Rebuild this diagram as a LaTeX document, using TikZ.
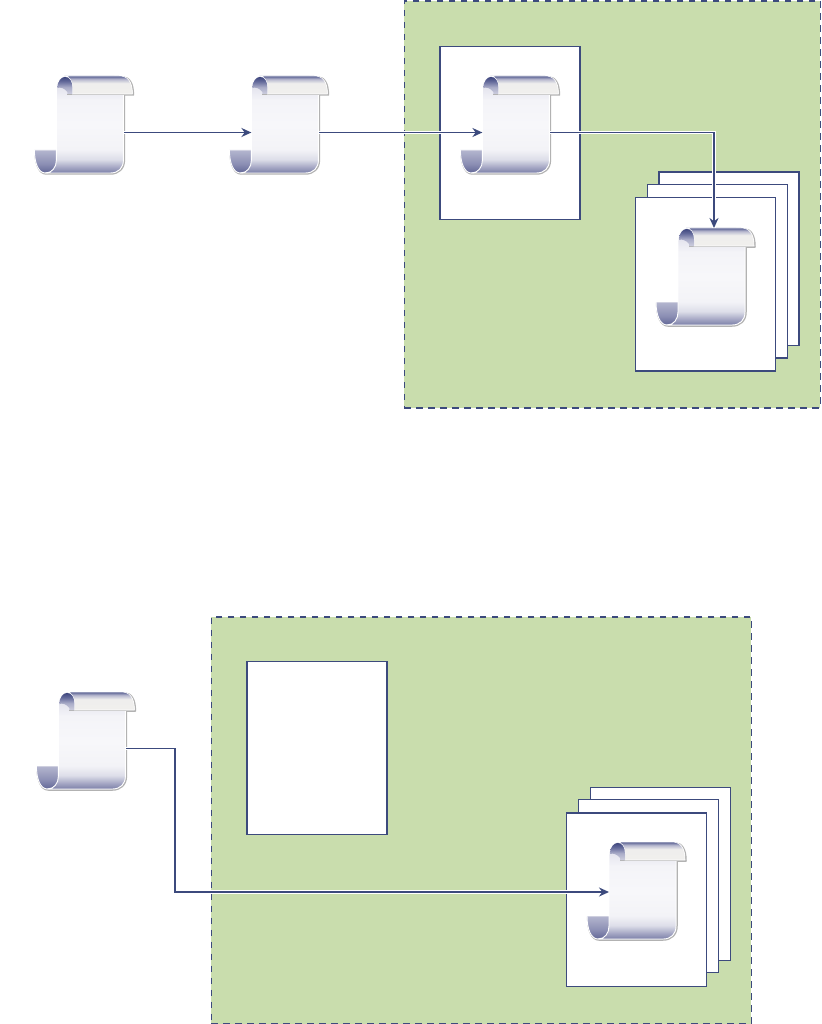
\documentclass[tikz,border=0pt]{standalone}
\usetikzlibrary{arrows.meta}
\definecolor{navy}{HTML}{3C4A7D}
\definecolor{zone}{HTML}{C9DDAD}
\definecolor{ba}{HTML}{7B7FA8}
\definecolor{bb}{HTML}{A5A7C4}
\definecolor{bc}{HTML}{DDDEE9}
\definecolor{bd}{HTML}{F3F3F7}
\definecolor{be}{HTML}{F7F7FA}
\definecolor{bf}{HTML}{F4F4F8}
\definecolor{bg}{HTML}{E4E4EE}
\definecolor{bh}{HTML}{A4A6C3}
\definecolor{fa}{HTML}{F0EFED}
\definecolor{fb}{HTML}{EFEEED}
\definecolor{fc}{HTML}{B8B9CF}
\definecolor{fd}{HTML}{565D90}
\definecolor{ca}{HTML}{CDCEDE}
\definecolor{cb}{HTML}{AAACC8}
\definecolor{cc}{HTML}{646A9B}
\definecolor{cd}{HTML}{3F477E}
\definecolor{ga}{HTML}{626796}
\definecolor{gb}{HTML}{8C8FB4}
\definecolor{gc}{HTML}{B4B6CF}
\pgfdeclareverticalshading{scrollbody}{100bp}{
 color(0bp)=(ba);color(25bp)=(ba);color(28bp)=(bb);color(32bp)=(bc);color(37bp)=(bd);
 color(49.7bp)=(be);color(62.6bp)=(bf);color(69.3bp)=(bg);color(75bp)=(bh);color(100bp)=(bh)}
\pgfdeclareverticalshading{scrollflap}{100bp}{
 color(0bp)=(fa);color(25bp)=(fa);color(55bp)=(fb);color(66bp)=(fc);color(75bp)=(fd);color(100bp)=(fd)}
\pgfdeclareverticalshading{scrollcurl}{100bp}{
 color(0bp)=(ca);color(25bp)=(ca);color(45bp)=(cb);color(62bp)=(cc);color(75bp)=(cd);color(100bp)=(cd)}
\pgfdeclareverticalshading{scrollfoot}{100bp}{
 color(0bp)=(ga);color(25bp)=(ga);color(45bp)=(gb);color(75bp)=(gc);color(100bp)=(gc)}
\tikzset{
 x=1pt,y=-1pt,
 zonebox/.style={draw=navy,fill=zone,line width=1.9pt,dash pattern=on 6.5pt off 5.5pt},
 pagebox/.style={draw=navy,fill=white,line width=1.2pt,anchor=north west,inner sep=0pt,outer sep=0pt,minimum width=140pt,minimum height=173.5pt},
 flowline/.style={draw=navy,line width=1.9pt,-{Stealth[length=10pt,width=9pt]},
   preaction={draw=white,line width=3.8pt,-}},
 scrollout/.style={draw=white,line width=.9pt,line join=round},
 scrollshadow/.style={draw=black!30,line width=1.5pt,line join=round},
 scrollpic/.pic={
  \draw[scrollshadow] (0.6,76) -- (23,76) -- (23,14) .. controls (23,6) and (28,2) .. (36,2) -- (88,2)
     .. controls (95,2) and (99,8) .. (99,20) -- (90,20) -- (90,85)
     .. controls (90,94) and (84,99) .. (76,99) -- (12,99) .. controls (5,99) and (0.6,90) .. (0.6,76) -- cycle;
  \shade[shading=scrollfoot,scrollout] (0,75) -- (24,75) -- (24,85) .. controls (24,93) and (19,98) .. (11,98)
     .. controls (4,98) and (0,88) .. (0,75) -- cycle;
  \shade[shading=scrollbody,scrollout] (22,14) .. controls (22,5) and (27,1) .. (35,1) -- (80,1)
     .. controls (86,1) and (89,5) .. (89,14) -- (89,85)
     .. controls (89,93) and (84,98) .. (76,98) -- (11,98)
     .. controls (18,98) and (22,92) .. (22,85) -- cycle;
  \fill[fill=black!30] (33,19) rectangle (98.5,20.4);
  \shade[shading=scrollflap,draw=white,line width=.6pt] (30,1) -- (85,1)
     .. controls (93,1) and (98,6) .. (98,19) -- (38,19) -- (38,12) .. controls (38,6) and (35,1) .. (30,1) -- cycle;
  \shade[shading=scrollcurl] (23,13) .. controls (23,6) and (27,2) .. (30.5,2)
     .. controls (35,2) and (38,6) .. (38,13) -- (38,19) -- (33,19) -- (33,17) .. controls (30,13) and (26,12) .. (23,13) -- cycle;
  \node[inner sep=0pt,outer sep=0pt,minimum width=69pt,minimum height=97pt] (-body) at (55.5,49.5) {};
 }
}
\begin{document}
\begin{tikzpicture}
\useasboundingbox (0,0) rectangle (821,1024);
\node[zonebox,anchor=north west,inner sep=0pt,minimum width=416pt,minimum height=407pt] (zoneA) at (403.5,0) {};
\node[pagebox] (pageA) at (440,46.3) {};
\node[pagebox] (stackA3) at (659,172) {};
\node[pagebox] (stackA2) at (647.3,184.5) {};
\node[pagebox] (stackA1) at (635.5,197.5) {};
\node[zonebox,anchor=north west,inner sep=0pt,minimum width=540pt,minimum height=407pt] (zoneB) at (210.5,615.6) {};
\node[pagebox] (pageB) at (247,661.3) {};
\node[pagebox] (stackB3) at (590.5,787.3) {};
\node[pagebox] (stackB2) at (578.3,799.3) {};
\node[pagebox] (stackB1) at (566.5,813) {};
\pic (s1) at (34.4,75) {scrollpic};
\pic (s2) at (229.4,75) {scrollpic};
\pic (s3) at (460.4,75) {scrollpic};
\pic (s4) at (656,227) {scrollpic};
\pic (s5) at (36.4,691) {scrollpic};
\pic (s6) at (587,841) {scrollpic};
\draw[flowline] ([yshift=-8pt]s1-body.east) -- ([yshift=-8pt,xshift=1pt]s2-body.west);
\draw[flowline] ([yshift=-8pt]s2-body.east) -- ([yshift=-8pt,xshift=1pt]s3-body.west);
\draw[flowline] ([yshift=-8pt]s3-body.east) -| ([xshift=2.5pt]s4-body.north);
\draw[flowline] ([yshift=-8pt]s5-body.east) -- ++(49,0) |- ([xshift=1pt,yshift=-1.5pt]s6-body.west);
\end{tikzpicture}
\end{document}
